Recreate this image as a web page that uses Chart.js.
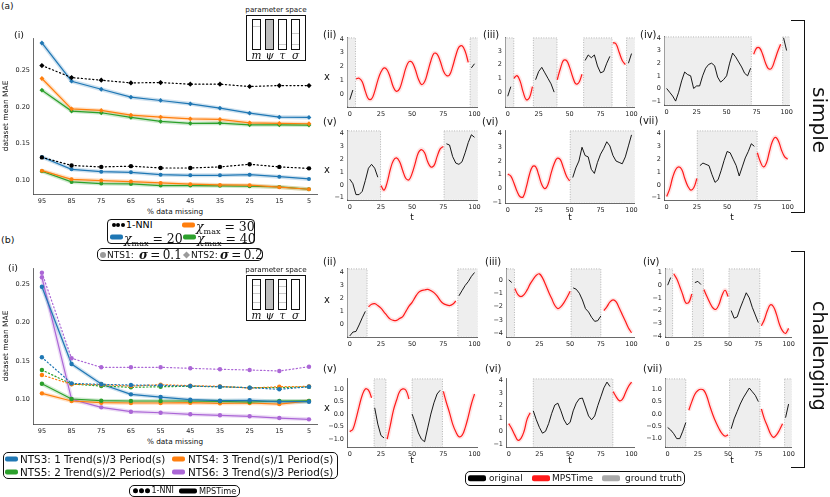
<!DOCTYPE html>
<html>
<head>
<meta charset="utf-8">
<script src="https://cdn.jsdelivr.net/npm/chart.js@4.4.1/dist/chart.umd.min.js"></script>
<style>
  body { margin: 0; width: 830px; height: 497px; position: relative; overflow: hidden; background: #fff; font-family: 'DejaVu Sans', sans-serif; color: #111; }
  canvas { position: absolute; }
  .t { position: absolute; white-space: nowrap; line-height: 1; color: #111; transform: translateY(-50%); }
  .c { transform: translate(-50%, -50%); }
  .box { position: absolute; box-sizing: border-box; border: 1px solid #111; border-radius: 4px; }
  .sw { position: absolute; border-radius: 2px; transform: translateY(-50%); }
  .dot { position: absolute; border-radius: 50%; transform: translateY(-50%); }
  .ln { position: absolute; background: #111; }
  .serif { font-family: 'DejaVu Serif', serif; }
</style>
</head>
<body>
<script>
// ---- panel (i) data: dataset mean MAE vs % data missing ----
const pctMissing = [95, 85, 75, 65, 55, 45, 35, 25, 15, 5];
const yTicksMAE = [0.10, 0.15, 0.20, 0.25];

// (a) NTS1 (sigma = 0.1), lower group
const aNniNts1 = [0.131, 0.120, 0.118, 0.119, 0.1165, 0.1165, 0.118, 0.1216, 0.118, 0.116];
const aX20Nts1 = [0.1315, 0.1147, 0.1115, 0.1106, 0.1074, 0.1065, 0.1065, 0.1074, 0.1047, 0.1016];
const aX30Nts1 = [0.1129, 0.1011, 0.0993, 0.0979, 0.0961, 0.0944, 0.0934, 0.093, 0.0903, 0.0875];
const aX40Nts1 = [0.1121, 0.0975, 0.0952, 0.0948, 0.0925, 0.0925, 0.0921, 0.0916, 0.0907, 0.0875];
// (a) NTS2 (sigma = 0.2), upper group
const aNniNts2 = [0.2564, 0.240, 0.2364, 0.2327, 0.2332, 0.2309, 0.2309, 0.2278, 0.2291, 0.2291];
const aX20Nts2 = [0.2872, 0.235, 0.224, 0.2132, 0.2087, 0.2041, 0.1982, 0.1914, 0.186, 0.1856];
const aX30Nts2 = [0.2387, 0.1973, 0.1951, 0.1887, 0.186, 0.1837, 0.1828, 0.1782, 0.1774, 0.1769];
const aX40Nts2 = [0.2228, 0.1942, 0.1919, 0.1855, 0.1801, 0.1774, 0.1778, 0.1755, 0.1755, 0.1751];

// (b) 1-NNI (dotted) and MPSTime (solid)
const bNniNts3 = [0.1546, 0.1205, 0.1192, 0.1183, 0.1179, 0.117, 0.1161, 0.1148, 0.1127, 0.116];
const bMpsNts3 = [0.247, 0.1458, 0.1196, 0.1061, 0.1026, 0.0991, 0.0978, 0.0983, 0.0965, 0.0965];
const bNniNts4 = [0.1314, 0.1192, 0.1188, 0.117, 0.1188, 0.1175, 0.1166, 0.1144, 0.1161, 0.1165];
const bMpsNts4 = [0.1074, 0.0974, 0.0952, 0.0948, 0.0948, 0.0952, 0.0943, 0.0948, 0.0934, 0.0975];
const bNniNts5 = [0.138, 0.1196, 0.117, 0.1153, 0.1161, 0.1166, 0.1161, 0.1148, 0.1148, 0.116];
const bMpsNts5 = [0.12, 0.10, 0.0978, 0.0974, 0.0974, 0.0974, 0.097, 0.0961, 0.0974, 0.0975];
const bNniNts6 = [0.2653, 0.1533, 0.1415, 0.1415, 0.1415, 0.1402, 0.1389, 0.138, 0.1367, 0.1423];
const bMpsNts6 = [0.2593, 0.0996, 0.0891, 0.0834, 0.082, 0.08, 0.0787, 0.0774, 0.0751, 0.0734];

// ---- example series panels (ii)-(vii) ----
const tGrid = [0, 2.5, 5, 7.5, 10, 12.5, 15, 17.5, 20, 22.5, 25, 27.5, 30, 32.5, 35, 37.5, 40, 42.5, 45, 47.5,
  50, 52.5, 55, 57.5, 60, 62.5, 65, 67.5, 70, 72.5, 75, 77.5, 80, 82.5, 85, 87.5, 90, 92.5, 95, 97.5, 100];
const tTicks = [0, 25, 50, 75, 100];

const simpleII = [-0.4, 0.3, 1.1, 1.15, 0.9, 0.2, -0.35, -0.35, 0.2, 1.0, 1.6, 1.9, 1.75, 1.2, 0.5, 0.2, 0.4, 1.1, 1.9, 2.35,
  2.3, 1.8, 1.1, 0.7, 0.9, 1.6, 2.4, 2.95, 2.9, 2.4, 1.7, 1.35, 1.4, 2.0, 2.8, 3.4, 3.5, 3.1, 2.3, 1.9, 2.2];
const simpleIII = [-0.3, 0.4, 1.0, 1.2, 0.8, 0.0, -0.55, -0.4, 0.4, 0.9, 1.5, 1.8, 1.4, 1.0, 0.6, 0.0, 0.9, 1.7, 2.3, 2.3,
  1.8, 1.1, 0.6, 0.7, 1.3, 2.3, 2.7, 2.5, 2.7, 1.9, 1.4, 1.5, 2.1, 2.6, 3.6, 3.5, 2.9, 2.3, 2.0, 2.1, 2.8];
const simpleIV = [0.0, -0.3, -0.6, -1.0, -0.3, 0.6, 1.3, 1.1, 1.0, 0.0, 0.2, 0.2, 1.0, 1.6, 1.9, 2.0, 1.8, 0.9, 0.5, 0.7,
  1.0, 2.0, 2.8, 2.5, 2.1, 1.7, 1.2, 1.0, 1.6, 2.7, 3.2, 3.2, 2.7, 2.0, 1.55, 1.6, 2.2, 2.9, 3.5, 4.0, 3.0];
const simpleV = [0.45, 0.1, -0.75, -0.75, -0.5, 0.35, 1.3, 1.6, 1.3, 0.6, -0.05, -0.4, 0.2, 1.2, 1.9, 2.1, 1.8, 1.1, 0.5, 0.4,
  0.9, 1.7, 2.5, 2.75, 2.5, 1.8, 1.4, 1.5, 2.2, 2.8, 3.0, 3.2, 3.1, 2.2, 1.7, 1.6, 1.8, 2.5, 3.3, 3.9, 3.7];
const simpleVI = [1.05, 0.9, 0.4, -0.2, -0.6, -0.6, 0.1, 1.0, 1.6, 1.6, 1.0, 0.3, 0.0, 0.3, 1.1, 1.8, 2.2, 2.1, 1.5, 0.9,
  0.55, 0.8, 1.5, 2.0, 3.0, 2.4, 2.3, 1.4, 1.1, 1.9, 2.5, 2.9, 3.4, 3.1, 2.4, 2.0, 1.9, 1.8, 2.3, 3.1, 3.9];
const simpleVII = [-0.9, -0.3, 0.6, 1.2, 1.4, 1.2, 0.5, -0.1, -0.4, -0.2, 0.5, 1.5, 1.7, 1.6, 1.5, 0.8, 0.2, 0.4, 1.1, 1.9,
  2.6, 2.5, 2.0, 1.5, 0.7, 1.4, 2.1, 2.6, 3.2, 3.0, 2.5, 1.8, 1.4, 1.7, 2.6, 3.4, 3.7, 3.4, 2.7, 2.2, 2.0];

const hardII = [-0.9, -0.6, -0.55, -0.05, 0.5, 1.0, 1.35, 1.55, 1.6, 1.45, 1.25, 0.95, 0.65, 0.4, 0.3, 0.3, 0.45, 0.6, 1.0, 1.4,
  1.7, 2.1, 2.45, 2.6, 2.65, 2.7, 2.6, 2.45, 2.2, 1.85, 1.6, 1.5, 1.45, 1.55, 1.8, 2.2, 2.6, 3.0, 3.3, 3.7, 4.0];
const hardIII = [0.0, -0.2, -0.65, -1.1, -1.25, -1.1, -0.75, -0.3, 0.05, 0.35, 0.45, 0.15, -0.35, -0.9, -1.4, -1.9, -2.15, -2.0, -1.7, -1.3,
  -0.85, -0.6, -0.7, -1.0, -1.5, -2.15, -2.4, -2.8, -3.1, -3.05, -2.7, -2.3, -2.0, -1.65, -1.5, -1.65, -2.1, -2.6, -3.1, -3.6, -3.95];
const hardIV = [0.0, 0.6, 0.9, 0.5, -0.1, -0.75, -1.4, -1.35, -0.7, 0.2, 0.3, 0.05, -0.35, -0.9, -1.4, -1.8, -1.9, -1.5, -0.8, -0.4,
  -0.9, -2.0, -2.6, -2.5, -1.8, -1.2, -0.6, -1.0, -1.75, -2.35, -2.95, -3.2, -2.7, -2.0, -1.55, -1.7, -2.3, -3.1, -3.6, -3.8, -3.4];
const hardV = [-0.7, -0.6, -0.2, 0.3, 0.75, 1.0, 0.95, 0.65, 0.25, -0.4, -0.85, -0.95, -1.0, -0.45, 0.15, 0.55, 0.9, 1.0, 0.95, 0.6,
  0.0, -0.35, -0.75, -1.0, -1.1, -0.55, 0.0, 0.45, 0.8, 0.95, 0.9, 0.45, 0.05, -0.4, -0.7, -0.9, -0.85, -0.55, -0.1, 0.4, 0.8];
const hardVI = [0.6, 0.2, -0.3, -0.7, -0.55, 0.0, 0.95, 1.45, 1.6, 0.9, 0.3, -0.15, 0.0, 0.6, 1.4, 2.05, 2.2, 1.6, 0.9, 0.5,
  0.7, 1.6, 2.2, 2.55, 2.6, 1.9, 1.2, 0.9, 1.2, 2.0, 2.7, 3.4, 3.85, 3.5, 3.1, 2.7, 2.4, 2.5, 3.0, 3.5, 3.85];
const hardVII = [-0.55, -0.65, -0.8, -1.0, -1.0, -0.7, -0.35, 0.15, 0.5, 0.8, 0.95, 1.0, 0.95, 0.7, 0.3, -0.05, -0.35, -0.6, -0.8, -0.9,
  -0.85, -0.6, -0.2, 0.1, 0.4, 0.65, 0.85, 1.05, 0.9, 0.75, 0.5, 0.2, -0.2, -0.5, -0.8, -0.95, -0.85, -0.65, -0.4, -0.15, 0.4];

// observed windows (shaded) for each panel, in t units
const spansSimple = {
  ii: [[-3, 4.6], [96.5, 103]],
  iii: [[-3, 4.9], [20.7, 39.8], [61.3, 84.3], [96, 103]],
  iv: [[-3, 70.6], [96.7, 103]],
  v: [[-3, 24.7], [75.6, 103]],
  vi: [[50.5, 103]],
  vii: [[25.3, 74.8]]
};
const spansHard = {
  ii: [[-3, 13.9], [86.6, 103]],
  iii: [[-3, 4.7], [50.8, 75]],
  iv: [[-3, 4.1], [20.5, 29.6], [50.7, 76.2]],
  v: [[19.5, 29], [50, 74.3]],
  vi: [[20, 84.8]],
  vii: [[-3, 15], [51.2, 76.3], [96.7, 103]]
};

const BLUE = '#1f77b4', ORANGE = '#ff7f0e', GREEN = '#2ca02c', PURPLE = '#ab66d6';

Chart.defaults.font.family = "'DejaVu Sans', sans-serif";
Chart.defaults.color = '#222';

// shaded spans drawn behind the series
const shadePlugin = {
  id: 'shade',
  beforeDatasetsDraw(chart, args, opts) {
    if (!opts.spans) return;
    const {ctx, chartArea: a, scales: {x}} = chart;
    ctx.save();
    ctx.beginPath();
    ctx.rect(a.left + 0.6, a.top - 1, a.width, a.height + 0.4);
    ctx.clip();
    opts.spans.forEach(([s, e]) => {
      const x0 = x.getPixelForValue(s), x1 = x.getPixelForValue(e);
      ctx.fillStyle = '#eeeeee';
      ctx.fillRect(x0, a.top, x1 - x0, a.height);
      ctx.setLineDash([1, 1.5]);
      ctx.strokeStyle = '#9a9a9a';
      ctx.lineWidth = 0.7;
      ctx.strokeRect(x0, a.top, x1 - x0, a.height);
    });
    ctx.restore();
  }
};
Chart.register(shadePlugin);

function place(box, pad) {
  const c = document.createElement('canvas');
  const w = Math.round(box.r - box.l + pad.l + pad.r);
  const h = Math.round(box.b - box.t + pad.t + pad.b);
  c.width = w; c.height = h;
  c.style.left = (box.l - pad.l) + 'px';
  c.style.top = (box.t - pad.t) + 'px';
  c.style.width = w + 'px';
  c.style.height = h + 'px';
  document.body.appendChild(c);
  return c;
}

function axis(min, max, ticks, fmt, fitFn, extra) {
  return Object.assign({
    type: 'linear', min: min, max: max,
    afterBuildTicks: s => { s.ticks = ticks.map(v => ({value: v})); },
    afterFit: fitFn,
    grid: {display: false, drawTicks: false},
    border: {display: true, color: '#444', width: 0.8},
    ticks: {font: {size: 6.5}, color: '#222', maxRotation: 0, autoSkip: false, callback: fmt}
  }, extra);
}

function fmtNum(dec) {
  return v => (v < 0 ? '\u2212' : '') + Math.abs(v).toFixed(dec);
}

// main MAE panels
function pts(arr) {
  return pctMissing.map((p, i) => ({x: p, y: arr[i]}));
}
function series(list, arr, color, dash, marker, r, band) {
  list.push({data: pts(arr), borderColor: color, backgroundColor: color, borderWidth: 1.2,
    borderDash: dash, borderCapStyle: 'round', pointStyle: marker, pointRadius: r, pointBorderWidth: 0,
    pointBackgroundColor: color, tension: 0, order: 0});
  if (band) {
    list.push({data: pts(arr), borderColor: color + '38', borderWidth: 4, pointRadius: 0, tension: 0, order: 5});
  }
}
function maeChart(box, datasets, yMin, yMax) {
  const pad = {l: 30, t: 8, r: 10, b: 12};
  const c = place(box, pad);
  new Chart(c, {
    type: 'line',
    data: {datasets: datasets},
    options: {
      responsive: false, animation: false, events: [],
      layout: {padding: {left: 0, top: pad.t, right: pad.r, bottom: 0}},
      plugins: {legend: {display: false}, tooltip: {enabled: false}},
      scales: {
        x: axis(2.3, 98, pctMissing, v => String(v), s => { s.height = pad.b; }, {reverse: true}),
        y: axis(yMin, yMax, yTicksMAE, v => v.toFixed(2), s => { s.width = pad.l; })
      }
    }
  });
}

const dsA = [];
series(dsA, aNniNts2, '#000000', [1.2, 2.6], 'rectRot', 2.6, false);
series(dsA, aX20Nts2, BLUE, [], 'rectRot', 2.4, true);
series(dsA, aX30Nts2, ORANGE, [], 'rectRot', 2.4, true);
series(dsA, aX40Nts2, GREEN, [], 'rectRot', 2.4, true);
series(dsA, aNniNts1, '#000000', [1.2, 2.6], 'circle', 2.2, false);
series(dsA, aX20Nts1, BLUE, [], 'circle', 2.0, true);
series(dsA, aX30Nts1, ORANGE, [], 'circle', 2.0, true);
series(dsA, aX40Nts1, GREEN, [], 'circle', 2.0, true);
maeChart({l: 33, t: 38, r: 317, b: 194}, dsA, 0.081, 0.294);

const dsB = [];
series(dsB, bNniNts6, PURPLE, [1.2, 2.4], 'circle', 2.2, false);
series(dsB, bNniNts3, BLUE, [1.2, 2.4], 'circle', 2.2, false);
series(dsB, bNniNts4, ORANGE, [1.2, 2.4], 'circle', 2.2, false);
series(dsB, bNniNts5, GREEN, [1.2, 2.4], 'circle', 2.2, false);
series(dsB, bMpsNts3, BLUE, [], 'circle', 2.2, true);
series(dsB, bMpsNts5, GREEN, [], 'circle', 2.2, true);
series(dsB, bMpsNts4, ORANGE, [], 'circle', 2.2, true);
series(dsB, bMpsNts6, PURPLE, [], 'circle', 2.2, true);
maeChart({l: 33, t: 268, r: 317, b: 424}, dsB, 0.0673, 0.2715);

// example imputation panels
function inSpan(t, spans) {
  return spans.some(([a, b]) => t >= a && t <= b);
}
function tsPanel(box, vals, spans, yMin, yMax, yTicks, dec) {
  const pad = {l: 22, t: 5, r: 9, b: 10};
  const c = place(box, pad);
  const observed = tGrid.map((t, i) => ({x: t, y: inSpan(t, spans) ? vals[i] : null}));
  const imputed = tGrid.map((t, i) => ({x: t, y: inSpan(t, spans) ? null : vals[i]}));
  new Chart(c, {
    type: 'line',
    data: {datasets: [
      {data: observed, borderColor: '#000', borderWidth: 0.9, pointRadius: 0, tension: 0, order: 0},
      {data: imputed, borderColor: '#ff1a1a', borderWidth: 1.2, pointRadius: 0, tension: 0.4, order: 1},
      {data: imputed, borderColor: 'rgba(255,40,40,0.12)', borderWidth: 4.5, pointRadius: 0, tension: 0.4, order: 2}
    ]},
    options: {
      responsive: false, animation: false, events: [],
      layout: {padding: {left: 0, top: pad.t, right: pad.r, bottom: 0}},
      plugins: {legend: {display: false}, tooltip: {enabled: false}, shade: {spans: spans}},
      scales: {
        x: axis(-2.2, 102, tTicks, v => String(v), s => { s.height = pad.b; }, {}),
        y: axis(yMin, yMax, yTicks, fmtNum(dec), s => { s.width = pad.l; }, {})
      }
    }
  });
  return c;
}
const ints04 = [0, 1, 2, 3, 4], intsM14 = [-1, 0, 1, 2, 3, 4], halfs = [-1, -0.5, 0, 0.5, 1];
tsPanel({l: 347, t: 36, r: 477, b: 107}, simpleII, spansSimple.ii, -0.93, 4.07, ints04, 0);
tsPanel({l: 505, t: 36, r: 634, b: 107}, simpleIII, spansSimple.iii, -1.08, 3.94, [0, 1, 2, 3], 0);
tsPanel({l: 664, t: 35, r: 789, b: 105}, simpleIV, spansSimple.iv, -1.31, 4.08, intsM14, 0);
tsPanel({l: 347, t: 129, r: 477, b: 200}, simpleV, spansSimple.v, -1.17, 4.2, intsM14, 0);
tsPanel({l: 505, t: 129, r: 634, b: 203}, simpleVI, spansSimple.vi, -1.05, 4.19, intsM14, 0);
tsPanel({l: 664, t: 129, r: 790, b: 200}, simpleVII, spansSimple.vii, -1.17, 4.2, intsM14, 0);
tsPanel({l: 347, t: 267, r: 477, b: 337}, hardII, spansHard.ii, -0.98, 4.28, ints04, 0);
tsPanel({l: 506, t: 267, r: 634, b: 337}, hardIII, spansHard.iii, -4.27, 0.82, [-4, -3, -2, -1, 0], 0);
tsPanel({l: 665, t: 267, r: 791, b: 337}, hardIV, spansHard.iv, -4.08, 1.28, [-4, -3, -2, -1, 0, 1], 0);
tsPanel({l: 347, t: 377, r: 477, b: 447}, hardV, spansHard.v, -1.31, 1.40, halfs, 1);
tsPanel({l: 506, t: 377, r: 634, b: 447}, hardVI, spansHard.vi, -1.23, 4.1, intsM14, 0);
tsPanel({l: 665, t: 377, r: 791, b: 447}, hardVII, spansHard.vii, -1.34, 1.42, halfs, 1);

// ---- text, legends and decorations ----
function txt(html, x, y, css, center) {
  const d = document.createElement('div');
  d.className = 't' + (center ? ' c' : '');
  d.innerHTML = html;
  d.style.cssText += 'left:' + x + 'px;top:' + y + 'px;' + (css || '');
  document.body.appendChild(d);
  return d;
}
function el(cls, x, y, w, h, css) {
  const d = document.createElement('div');
  d.className = cls;
  d.style.cssText += 'left:' + x + 'px;top:' + y + 'px;width:' + w + 'px;height:' + h + 'px;' + (css || '');
  document.body.appendChild(d);
  return d;
}
function dots(x, y, n, d, color) {
  for (let i = 0; i < n; i++) el('dot', x + i * d, y, d - 0.4, d - 0.4, 'background:' + color + ';');
}

txt('(a)', 1, 6, 'font-size:9px;');
txt('(b)', 1, 240, 'font-size:9.5px;');
txt('(i)', 14, 35, 'font-size:9.5px;');
txt('(i)', 8, 268, 'font-size:9.5px;');
txt('dataset mean MAE', 6, 116, 'font-size:7.5px;transform:translate(-50%,-50%) rotate(-90deg);');
txt('dataset mean MAE', 6, 346, 'font-size:7.5px;transform:translate(-50%,-50%) rotate(-90deg);');
txt('% data missing', 175, 212, 'font-size:7.3px;', true);
txt('% data missing', 175, 442, 'font-size:7.3px;', true);

// parameter space icons
function paramIcon(y0, lines) {
  txt('parameter space', 276, y0 - 5, 'font-size:7.2px;', true);
  el('box', 246, y0, 60, 46, 'border:1.3px solid #111;border-radius:0;');
  const xs = [252, 265, 278, 291];
  const names = ['m', '\u03c8', '\u03c4', '\u03c3'];
  xs.forEach((x, i) => {
    el('box', x, y0 + 3.5, 9, 31, 'border-radius:0;background:' + (i === 1 ? '#bdbdbd' : '#fff') + ';');
    lines[i].forEach(ly => el('ln', x + 1, y0 + ly, 7, 1, 'background:#c9c9c9;'));
    txt(names[i], x + 4.5, y0 + 39.5, 'font-size:10.5px;font-style:italic;font-family:"DejaVu Serif",serif;', true);
  });
}
paramIcon(15, [[10.5], [], [28.5], [18, 28.5]]);
paramIcon(275, [[10, 18, 26.5], [], [11, 18, 26.5], []]);

// (a) legends
el('box', 107, 219, 148, 25);
function chi(v) {
  return '<span class="serif" style="font-style:italic;font-size:12.5px">\u03c7</span>' +
    '<span class="serif" style="font-size:8px;position:relative;top:3px">max</span>' +
    '<span class="serif" style="font-size:12.5px"> = ' + v + '</span>';
}
dots(112, 224.5, 3, 4.4, '#000');
txt('1-NNI', 126, 224.5, 'font-size:9.5px;color:#000;');
el('sw', 182, 224.5, 13, 5, 'background:' + ORANGE + ';');
txt(chi(30), 196, 225.5);
el('sw', 110, 237, 13, 5, 'background:' + BLUE + ';');
txt(chi(20), 124, 237.5);
el('sw', 183, 237, 13, 5, 'background:' + GREEN + ';');
txt(chi(40), 197, 237.5);

el('box', 97, 248, 166, 13, 'border-radius:5px;');
el('dot', 100, 254.5, 6, 6, 'background:#9a9a9a;');
txt('NTS1:', 107, 254.5, 'font-size:9px;');
txt('<b><i>\u03c3</i></b>\u2009=\u20090.1', 139, 254.5, 'font-size:12px;font-family:"DejaVu Serif",serif;');
el('dot', 183.5, 254.5, 5, 5, 'background:#9a9a9a;border-radius:0;transform:translateY(-50%) rotate(45deg);');
txt('NTS2:', 191, 254.5, 'font-size:9px;');
txt('<b><i>\u03c3</i></b>\u2009=\u20090.2', 220, 254.5, 'font-size:12px;font-family:"DejaVu Serif",serif;');

// (b) legends
el('box', 3, 452, 335, 27, 'border-radius:5px;');
el('sw', 5, 458.5, 13, 5, 'background:' + BLUE + ';');
txt('NTS3: 1 Trend(s)/3 Period(s)', 20, 458.5, 'font-size:10.4px;');
el('sw', 172, 458.5, 13, 5, 'background:' + ORANGE + ';');
txt('NTS4: 3 Trend(s)/1 Period(s)', 188, 458.5, 'font-size:10.4px;');
el('sw', 5, 471.5, 13, 5, 'background:' + GREEN + ';');
txt('NTS5: 2 Trend(s)/2 Period(s)', 20, 471.5, 'font-size:10.4px;');
el('sw', 172, 471.5, 13, 5, 'background:' + PURPLE + ';');
txt('NTS6: 3 Trend(s)/3 Period(s)', 188, 471.5, 'font-size:10.4px;');

el('box', 129, 484.5, 111, 12.5, 'border-radius:5px;');
dots(133, 490.8, 3, 5.8, '#000');
txt('1-NNI', 151.5, 490.8, 'font-size:8px;');
el('sw', 179, 490.8, 18, 5, 'background:#000;');
txt('MPSTime', 199, 490.8, 'font-size:8.2px;');

el('box', 465, 471, 220, 14.5, 'border-radius:5px;');
el('sw', 468, 478.2, 18, 5.5, 'background:#000;');
txt('original', 489, 478.2, 'font-size:9px;');
el('sw', 532, 478.2, 18, 5.5, 'background:#ff1a1a;');
txt('MPSTime', 552, 478.2, 'font-size:9px;');
el('sw', 602, 478.2, 18, 5.5, 'background:#aaaaaa;');
txt('ground truth', 625, 478.2, 'font-size:9px;');

// panel labels
const lab = 'font-size:10px;';
txt('(ii)', 323, 35, lab); txt('(iii)', 483, 35, lab); txt('(iv)', 640, 35, lab);
txt('(v)', 323, 122, lab); txt('(vi)', 482, 122, lab); txt('(vii)', 639, 121, lab);
txt('(ii)', 323, 262, lab); txt('(iii)', 485, 262, lab); txt('(iv)', 643, 262, lab);
txt('(v)', 323, 369, lab); txt('(vi)', 485, 369, lab); txt('(vii)', 643, 369, lab);
txt('x', 327, 77, 'font-size:10px;', true);
txt('x', 327, 170, 'font-size:10px;', true);
txt('x', 327, 300, 'font-size:10px;', true);
txt('x', 327, 408, 'font-size:10px;', true);
[412, 570, 732].forEach(x => {
  txt('t', x, 216.5, 'font-size:9px;', true);
  txt('t', x, 460, 'font-size:9px;', true);
});

// brackets with group names
function bracket(y0, y1) {
  el('ln', 804, y0, 1.3, y1 - y0);
  el('ln', 791, y0, 14.3, 1.3);
  el('ln', 791, y1 - 1.3, 14.3, 1.3);
}
bracket(20, 213);
bracket(251, 468);
txt('simple', 820, 120, 'font-size:20px;transform:translate(-50%,-50%) rotate(90deg);');
txt('challenging', 819, 356, 'font-size:19px;transform:translate(-50%,-50%) rotate(90deg);');
</script>
</body>
</html>
